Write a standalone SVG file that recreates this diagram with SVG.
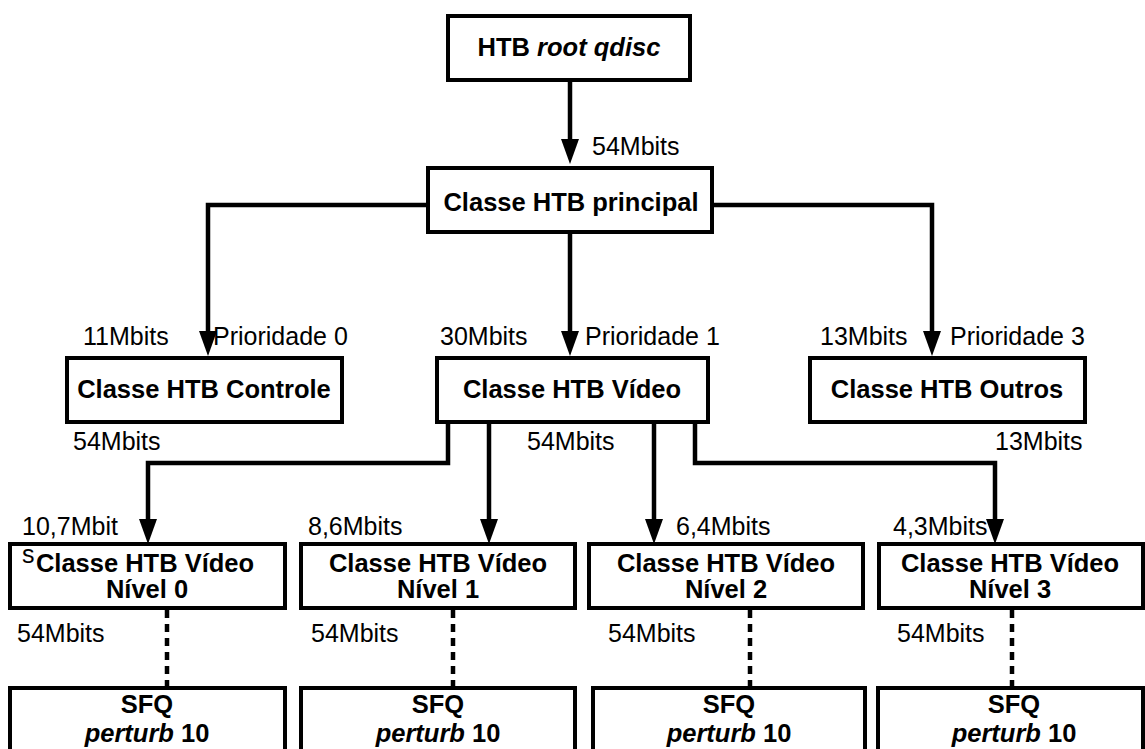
<svg xmlns="http://www.w3.org/2000/svg" width="1145" height="749" viewBox="0 0 1145 749">
  <style>
    .box { fill: #ffffff; stroke: #000000; stroke-width: 4; }
    .t { font-family: "Liberation Sans", Arial, sans-serif; font-size: 25px; fill: #000000; }
    .b { font-weight: bold; text-anchor: middle; font-size: 25.5px; }
    .i { font-style: italic; }
    .wire { fill: none; stroke: #000000; stroke-width: 4.5; stroke-linejoin: miter; }
    .dash { fill: none; stroke: #000000; stroke-width: 4.5; stroke-dasharray: 8 6; }
  </style>
  <defs>
    <marker id="arrow" markerUnits="userSpaceOnUse" markerWidth="25" markerHeight="20" viewBox="0 0 25 20" refX="11" refY="10" orient="auto">
      <path d="M0,1 L25,10 L0,19 Z" fill="#000000"/>
    </marker>
  </defs>

  <rect width="1145" height="749" fill="#ffffff"/>

  <!-- connectors -->
  <g id="connectors">
    <path class="wire" d="M570,80 V150" marker-end="url(#arrow)"/>
    <path class="wire" d="M428,205 H208 V342" marker-end="url(#arrow)"/>
    <path class="wire" d="M570,232 V342" marker-end="url(#arrow)"/>
    <path class="wire" d="M712,205 H932 V342" marker-end="url(#arrow)"/>
    <path class="wire" d="M448,422 V463 H148 V530" marker-end="url(#arrow)"/>
    <path class="wire" d="M489,422 V530" marker-end="url(#arrow)"/>
    <path class="wire" d="M654,422 V530" marker-end="url(#arrow)"/>
    <path class="wire" d="M695,422 V463 H995 V530" marker-end="url(#arrow)"/>
    <path class="dash" d="M167,610 V686"/>
    <path class="dash" d="M453,610 V686"/>
    <path class="dash" d="M750,610 V686"/>
    <path class="dash" d="M1012,610 V686"/>
  </g>

  <g id="root">
    <rect class="box" x="448" y="16" width="242" height="64"/>
    <text class="t b" x="569" y="56">HTB <tspan class="i">root qdisc</tspan></text>
  </g>

  <g id="principal">
    <rect class="box" x="428" y="168" width="284" height="64"/>
    <text class="t b" x="571" y="211">Classe HTB principal</text>
  </g>

  <g id="controle">
    <rect class="box" x="67" y="358" width="275" height="64"/>
    <text class="t b" x="204" y="398">Classe HTB Controle</text>
  </g>

  <g id="video">
    <rect class="box" x="437" y="358" width="271" height="64"/>
    <text class="t b" x="572" y="398">Classe HTB Vídeo</text>
  </g>

  <g id="outros">
    <rect class="box" x="810" y="358" width="275" height="64"/>
    <text class="t b" x="947" y="398">Classe HTB Outros</text>
  </g>

  <g id="video-nivel-0">
    <rect class="box" x="10" y="544" width="275" height="64"/>
    <text class="t b" x="145" y="572">Classe HTB Vídeo</text>
    <text class="t b" x="147" y="598">Nível 0</text>
  </g>

  <g id="video-nivel-1">
    <rect class="box" x="301" y="544" width="274" height="64"/>
    <text class="t b" x="438" y="572">Classe HTB Vídeo</text>
    <text class="t b" x="438" y="598">Nível 1</text>
  </g>

  <g id="video-nivel-2">
    <rect class="box" x="589" y="544" width="274" height="64"/>
    <text class="t b" x="726" y="572">Classe HTB Vídeo</text>
    <text class="t b" x="726" y="598">Nível 2</text>
  </g>

  <g id="video-nivel-3">
    <rect class="box" x="879" y="544" width="264" height="64"/>
    <text class="t b" x="1010" y="572">Classe HTB Vídeo</text>
    <text class="t b" x="1010" y="598">Nível 3</text>
  </g>

  <g id="sfq-0">
    <rect class="box" x="10" y="688" width="275" height="100"/>
    <text class="t b" x="147" y="713">SFQ</text>
    <text class="t b" x="147" y="742"><tspan class="i">perturb</tspan> 10</text>
  </g>

  <g id="sfq-1">
    <rect class="box" x="301" y="688" width="274" height="100"/>
    <text class="t b" x="438" y="713">SFQ</text>
    <text class="t b" x="438" y="742"><tspan class="i">perturb</tspan> 10</text>
  </g>

  <g id="sfq-2">
    <rect class="box" x="593" y="688" width="272" height="100"/>
    <text class="t b" x="729" y="713">SFQ</text>
    <text class="t b" x="729" y="742"><tspan class="i">perturb</tspan> 10</text>
  </g>

  <g id="sfq-3">
    <rect class="box" x="878" y="688" width="265" height="100"/>
    <text class="t b" x="1014" y="713">SFQ</text>
    <text class="t b" x="1014" y="742"><tspan class="i">perturb</tspan> 10</text>
  </g>

  <!-- rate / priority labels, drawn last so they sit on top of the boxes -->
  <g id="labels" class="t">
    <text x="592" y="155">54Mbits</text>
    <text x="83" y="345">11Mbits</text>
    <text x="213" y="345">Prioridade 0</text>
    <text x="440" y="345">30Mbits</text>
    <text x="585" y="345">Prioridade 1</text>
    <text x="820" y="345">13Mbits</text>
    <text x="950" y="345">Prioridade 3</text>
    <text x="73" y="450">54Mbits</text>
    <text x="527" y="450">54Mbits</text>
    <text x="995" y="450">13Mbits</text>
    <text x="22" y="535">10,7Mbit</text>
    <text x="22" y="563">s</text>
    <text x="308" y="535">8,6Mbits</text>
    <text x="676" y="535">6,4Mbits</text>
    <text x="893" y="535">4,3Mbits</text>
    <text x="17" y="642">54Mbits</text>
    <text x="311" y="642">54Mbits</text>
    <text x="608" y="642">54Mbits</text>
    <text x="897" y="642">54Mbits</text>
  </g>
</svg>
